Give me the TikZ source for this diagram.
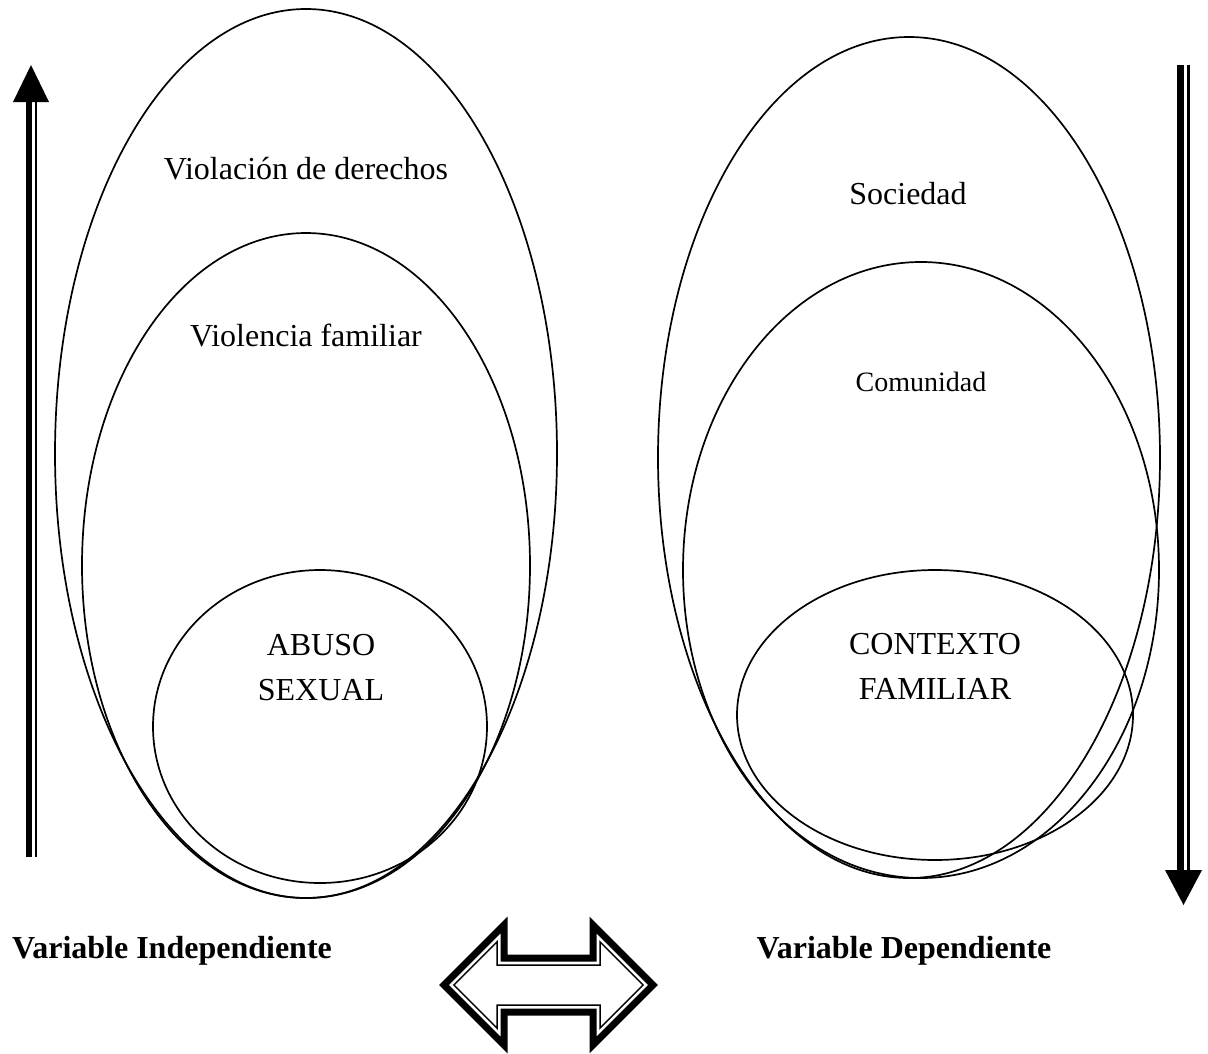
\documentclass[tikz,border=0pt]{standalone}
\usepackage{fontspec}
\setmainfont{Liberation Serif}
\begin{document}
\begin{tikzpicture}[x=1pt,y=-1pt,line join=miter,
  ell/.style={draw,line width=1.7pt},
  lbl/.style={font=\fontsize{32}{45}\selectfont,anchor=base,inner sep=0pt},
  lblc/.style={font=\fontsize{32}{45}\selectfont,align=center,inner sep=0pt},
  bigl/.style={font=\fontsize{32}{45}\selectfont\bfseries,anchor=base,inner sep=0pt},
  barfill/.style={fill=black}]
\useasboundingbox (0,0) rectangle (1208,1053);
% left ellipses
\draw[ell] (306,453.5) ellipse [x radius=251,y radius=444.5];
\draw[ell] (306,565.5) ellipse [x radius=224,y radius=332.5];
\draw[ell] (320,726.5) ellipse [x radius=167,y radius=156.5];
% right ellipses
\draw[ell] (909,457.5) ellipse [x radius=251,y radius=420.5];
\draw[ell] (921,570) ellipse [x radius=238,y radius=308];
\draw[ell] (935,715) ellipse [x radius=198,y radius=145];
% labels
\node[lbl] (vd) at (306,179) {Violación de derechos};
\node[lbl] (vf) at (306,346) {Violencia familiar};
\node[lblc] (as) at (321,668) {ABUSO\\SEXUAL};
\node[lbl] (so) at (908,204) {Sociedad};
\node[lbl,font=\fontsize{28}{40}\selectfont] (co) at (921,391) {Comunidad};
\node[lblc] (cf) at (935,666) {CONTEXTO\\FAMILIAR};
\node[bigl] (vi) at (172,958) {Variable Independiente};
\node[bigl] (vdep) at (904,958) {Variable Dependiente};
% left vertical arrow (up)
\fill[barfill] (25.7,102) rectangle (32.3,857);
\fill[barfill] (35,102) rectangle (37,857);
\fill[barfill] (31,65) -- (49,102) -- (13,102) -- cycle;
% right vertical arrow (down)
\fill[barfill] (1177,65) rectangle (1184,870);
\fill[barfill] (1187,65) rectangle (1190,870);
\fill[barfill] (1165,870) -- (1202,870) -- (1183.5,905) -- cycle;
% double-headed arrow
\draw[line width=7pt] (444,985) -- (504,925) -- (504,958) -- (593,958) -- (593,925)
  -- (653,985) -- (593,1045) -- (593,1012) -- (504,1012) -- (504,1045) -- cycle;
\draw[line width=1.5pt] (453.9,985) -- (497,941.9) -- (497,965) -- (600,965) -- (600,941.9)
  -- (643.1,985) -- (600,1028.1) -- (600,1005) -- (497,1005) -- (497,1028.1) -- cycle;
\end{tikzpicture}
\end{document}
